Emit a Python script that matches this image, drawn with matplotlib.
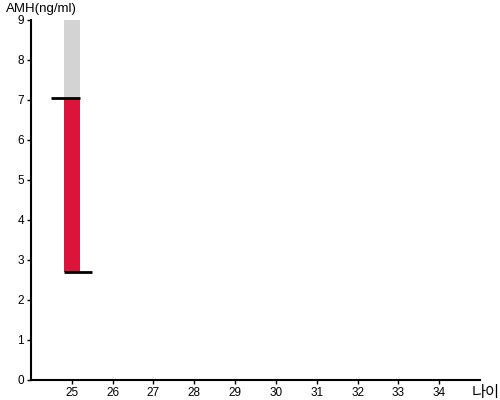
import matplotlib.pyplot as plt

plt.rcParams['font.family'] = ['Liberation Sans', 'Noto Sans CJK KR', 'DejaVu Sans']

# data
ages = [25]
amh_low = [2.7]
amh_high = [7.05]
range_top = [9]
x_ticks = [25, 26, 27, 28, 29, 30, 31, 32, 33, 34]
y_ticks = [0, 1, 2, 3, 4, 5, 6, 7, 8, 9]

fig = plt.figure(figsize=(5, 4), dpi=100)
ax = fig.add_axes([0.062, 0.05, 0.898, 0.9])

w = 0.39
# gray background range
ax.bar(ages, [t - l for t, l in zip(range_top, amh_low)], bottom=amh_low,
       width=w, color='#d3d3d3', zorder=1)
# red measured range
ax.bar(ages, [h - l for h, l in zip(amh_high, amh_low)], bottom=amh_low,
       width=w, color='#dc143c', zorder=2)
# marker lines
for a, lo, hi in zip(ages, amh_low, amh_high):
    ax.hlines(hi, a - 0.5, a + w / 2, color='black', lw=2, zorder=3)
    ax.hlines(lo, a - w / 2, a + 0.5, color='black', lw=2, zorder=3)

ax.set_xlim(24, 35)
ax.set_ylim(0, 9)
ax.set_xticks(x_ticks)
ax.set_yticks(y_ticks)
ax.tick_params(labelsize=8.5, length=3, width=1, pad=2)
for s in ['top', 'right']:
    ax.spines[s].set_visible(False)
for s in ['left', 'bottom']:
    ax.spines[s].set_linewidth(1.5)

fig.text(0.012, 0.963, 'AMH(ng/ml)', fontsize=9.5, va='bottom')
fig.text(0.944, 0.018, '나이', fontsize=11, va='center')

plt.savefig('out.png', dpi=100)
